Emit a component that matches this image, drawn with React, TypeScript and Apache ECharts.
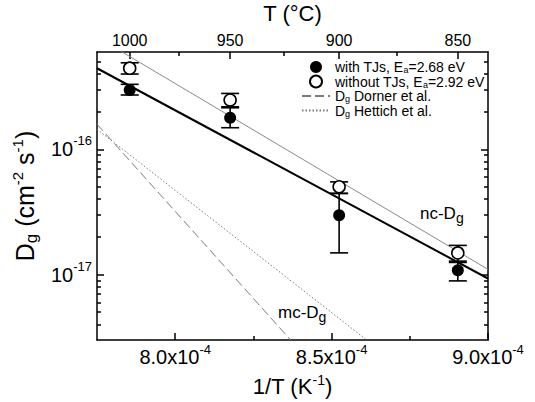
import React, { useEffect, useRef } from 'react';
import * as echarts from 'echarts';

const FONT = '"Liberation Sans", Arial, Helvetica, sans-serif';

// ---- axes ----
const X_MIN = 7.75e-4;
const X_MAX = 9.0e-4;
const Y_MIN = 3e-18;
const Y_MAX = 6e-16;
const X_TICKS = [8.0e-4, 8.5e-4, 9.0e-4];
const X_MINOR_TICKS = [8.25e-4, 8.75e-4];
const TOP_TICKS_C = [1000, 950, 900, 850];
const TOP_MINOR_C = [975, 925, 875];
const Y_DECADES = [-17, -16];
const Y_MINOR_DECADES = [-18, -17, -16];
const Y_MINOR_MANTISSAS = [2, 3, 4, 5, 6, 7, 8, 9];

// ---- data ----
const TEMPS_C = [1000, 950, 900, 850];
const WITH_TJS = [2.98e-16, 1.79e-16, 2.98e-17, 1.08e-17];
const WITH_TJS_LOW = [2.72e-16, 1.49e-16, 1.49e-17, 8.9e-18];
const WITH_TJS_HIGH = [3.31e-16, 2.15e-16, 4.45e-17, 1.25e-17];
const WITHOUT_TJS = [4.45e-16, 2.48e-16, 5.02e-17, 1.49e-17];
const WITHOUT_TJS_LOW = [4.0e-16, 2.19e-16, 4.45e-17, 1.28e-17];
const WITHOUT_TJS_HIGH = [4.92e-16, 2.8e-16, 5.5e-17, 1.71e-17];

const FIT_X = [7.75e-4, 9.0e-4];
const FIT_WITH_Y = [4.45e-16, 9.3e-18];
const FIT_WITHOUT_Y = [7.9e-16, 1.1e-17];
const DORNER_X = [7.75e-4, 8.369e-4];
const DORNER_Y = [1.59e-16, 3e-18];
const HETTICH_X = [7.75e-4, 8.612e-4];
const HETTICH_Y = [1.45e-16, 3e-18];

const NAME_WITH = 'with TJs, Ea=2.68 eV';
const NAME_WITHOUT = 'without TJs, Ea=2.92 eV';
const NAME_DORNER = 'Dg Dorner et al.';
const NAME_HETTICH = 'Dg Hettich et al.';

const LEGEND_RICH: Record<string, string> = {
  [NAME_WITH]: '{t|with TJs, E}{sub|a}{t|=2.68 eV}',
  [NAME_WITHOUT]: '{t|without TJs, E}{sub|a}{t|=2.92 eV}',
  [NAME_DORNER]: '{t|D}{sub|g}{t| Dorner et al.}',
  [NAME_HETTICH]: '{t|D}{sub|g}{t| Hettich et al.}',
};

const K0 = 273.15;
const toInv = (c: number) => 1 / (c + K0);

const BLACK = '#000';
const GRAY = '#8a8a8a';
const DASH_GRAY = '#7a7a7a';

function makeErrorBars(low: number[], high: number[]) {
  return TEMPS_C.map((c, i) => [toInv(c), low[i], high[i]]);
}

function errorBarItem(params: any, api: any) {
  const x = api.value(0);
  const pLo = api.coord([x, api.value(1)]);
  const pHi = api.coord([x, api.value(2)]);
  const hw = 9;
  const style = { stroke: BLACK, lineWidth: 1.6, fill: 'none' };
  return {
    type: 'group',
    children: [
      { type: 'line', shape: { x1: pLo[0], y1: pLo[1], x2: pHi[0], y2: pHi[1] }, style },
      { type: 'line', shape: { x1: pLo[0] - hw, y1: pLo[1], x2: pLo[0] + hw, y2: pLo[1] }, style },
      { type: 'line', shape: { x1: pHi[0] - hw, y1: pHi[1], x2: pHi[0] + hw, y2: pHi[1] }, style },
    ],
  };
}

const lineStyleAxis = { color: BLACK, width: 1.5 };

function tickOnlyAxis(position: string, min: number, max: number, values: number[], length: number) {
  return {
    type: 'value',
    position,
    min,
    max,
    axisLine: { show: false, onZero: false },
    axisTick: { show: true, inside: true, length, customValues: values, lineStyle: lineStyleAxis },
    axisLabel: { show: false },
    splitLine: { show: false },
    minorTick: { show: false },
  };
}

const HIDDEN_SYMBOL = { color: 'transparent', borderColor: 'transparent', borderWidth: 0, opacity: 0 };

export default function App() {
  const ref = useRef<HTMLDivElement>(null);

  useEffect(() => {
    const chart = echarts.init(ref.current as HTMLDivElement, null, { renderer: 'svg' });
    const logMin = Math.log10(Y_MIN);
    const logMax = Math.log10(Y_MAX);
    const yMinor = Y_MINOR_DECADES.flatMap((d) => Y_MINOR_MANTISSAS.map((m) => d + Math.log10(m))).filter(
      (v) => v > logMin && v < logMax
    );

    const labelRich = (main: number, sup: number, lh: number) => ({
      m: { fontFamily: FONT, fontSize: main, lineHeight: lh, verticalAlign: 'middle', color: BLACK },
      s: { fontFamily: FONT, fontSize: sup, lineHeight: sup, verticalAlign: 'top', color: BLACK },
      b: { fontFamily: FONT, fontSize: sup + 2, lineHeight: sup + 2, verticalAlign: 'bottom', color: BLACK },
    });

    const option: any = {
      animation: false,
      backgroundColor: '#fff',
      grid: { left: 97, right: 47, top: 52, bottom: 62, containLabel: false, outerBoundsMode: 'none' },
      legend: {
        orient: 'vertical',
        left: 301,
        top: 60,
        padding: 0,
        itemWidth: 28,
        itemHeight: 12,
        itemGap: 0,
        selectedMode: false,
        data: [
          { name: NAME_WITH },
          { name: NAME_WITHOUT },
          { name: NAME_DORNER, itemStyle: HIDDEN_SYMBOL },
          { name: NAME_HETTICH, itemStyle: HIDDEN_SYMBOL },
        ],
        formatter: (n: string) => LEGEND_RICH[n] || n,
        textStyle: {
          fontFamily: FONT,
          fontSize: 14,
          color: BLACK,
          rich: {
            t: { fontFamily: FONT, fontSize: 14, lineHeight: 15, verticalAlign: 'middle', color: BLACK },
            sub: { fontFamily: FONT, fontSize: 9, lineHeight: 9, verticalAlign: 'bottom', color: BLACK },
          },
        },
      },
      xAxis: [
        {
          type: 'value',
          position: 'bottom',
          min: X_MIN,
          max: X_MAX,
          axisLine: { show: true, onZero: false, lineStyle: lineStyleAxis },
          axisTick: { show: true, inside: true, length: 7, customValues: X_TICKS, lineStyle: lineStyleAxis },
          axisLabel: {
            show: true,
            customValues: X_TICKS,
            margin: 3,
            formatter: (v: number) => `{m|${(v * 1e4).toFixed(1)}x10}{s|-4}`,
            rich: labelRich(20, 13, 28),
          },
          splitLine: { show: false },
          minorTick: { show: false },
          name: '{m|1/T (K}{s|-1}{m|)}',
          nameLocation: 'middle',
          nameGap: 33,
          nameTextStyle: { rich: labelRich(22, 14, 26) },
        },
        {
          type: 'value',
          position: 'top',
          min: X_MIN,
          max: X_MAX,
          axisLine: { show: true, onZero: false, lineStyle: lineStyleAxis },
          axisTick: {
            show: true,
            inside: true,
            length: 7,
            customValues: TOP_TICKS_C.map(toInv),
            lineStyle: lineStyleAxis,
          },
          axisLabel: {
            show: true,
            customValues: TOP_TICKS_C.map(toInv),
            margin: 3,
            formatter: (v: number) => `${Math.round(1 / v - K0)}`,
            fontFamily: FONT,
            fontSize: 16,
            lineHeight: 18,
            color: BLACK,
          },
          splitLine: { show: false },
          minorTick: { show: false },
          name: 'T (°C)',
          nameLocation: 'middle',
          nameGap: 20,
          nameTextStyle: { fontFamily: FONT, fontSize: 22, lineHeight: 26, color: BLACK },
        },
        tickOnlyAxis('bottom', X_MIN, X_MAX, X_MINOR_TICKS, 4),
        tickOnlyAxis('top', X_MIN, X_MAX, TOP_MINOR_C.map(toInv), 4),
      ],
      yAxis: [
        {
          type: 'log',
          logBase: 10,
          position: 'left',
          min: Y_MIN,
          max: Y_MAX,
          axisLine: { show: false, onZero: false },
          axisTick: { show: false },
          axisLabel: { show: false },
          splitLine: { show: false },
          minorTick: { show: false },
        },
        {
          type: 'value',
          position: 'left',
          min: logMin,
          max: logMax,
          axisLine: { show: true, onZero: false, lineStyle: lineStyleAxis },
          axisTick: { show: true, inside: true, length: 7, customValues: Y_DECADES, lineStyle: lineStyleAxis },
          axisLabel: {
            show: true,
            customValues: Y_DECADES,
            margin: 5,
            formatter: (v: number) => `{m|10}{s|${v}}`,
            rich: labelRich(20, 13, 30),
          },
          splitLine: { show: false },
          minorTick: { show: false },
          name: '{m|D}{b|g}{m| (cm}{s|-2}{m| s}{s|-1}{m|)}',
          nameLocation: 'middle',
          nameGap: 49,
          nameTextStyle: { rich: labelRich(25, 15, 30) },
        },
        tickOnlyAxis('left', logMin, logMax, yMinor, 4),
        {
          type: 'value',
          position: 'right',
          min: logMin,
          max: logMax,
          axisLine: { show: true, onZero: false, lineStyle: lineStyleAxis },
          axisTick: { show: true, inside: true, length: 7, customValues: Y_DECADES, lineStyle: lineStyleAxis },
          axisLabel: { show: false },
          splitLine: { show: false },
          minorTick: { show: false },
        },
        tickOnlyAxis('right', logMin, logMax, yMinor, 4),
      ],
      series: [
        {
          name: 'fit with TJs',
          type: 'line',
          data: FIT_X.map((x, i) => [x, FIT_WITH_Y[i]]),
          symbol: 'none',
          lineStyle: { color: BLACK, width: 2 },
          z: 1,
          clip: true,
        },
        {
          name: 'fit without TJs',
          type: 'line',
          data: FIT_X.map((x, i) => [x, FIT_WITHOUT_Y[i]]),
          symbol: 'none',
          lineStyle: { color: GRAY, width: 1 },
          z: 1,
          clip: true,
        },
        {
          name: NAME_DORNER,
          type: 'line',
          data: DORNER_X.map((x, i) => [x, DORNER_Y[i]]),
          symbol: 'none',
          itemStyle: { color: DASH_GRAY },
          lineStyle: { color: DASH_GRAY, width: 1, type: [9, 4] },
          z: 1,
          clip: true,
        },
        {
          name: NAME_HETTICH,
          type: 'line',
          data: HETTICH_X.map((x, i) => [x, HETTICH_Y[i]]),
          symbol: 'none',
          itemStyle: { color: DASH_GRAY },
          lineStyle: { color: DASH_GRAY, width: 1, type: [1.5, 2] },
          z: 1,
          clip: true,
        },
        {
          name: 'err with',
          type: 'custom',
          data: makeErrorBars(WITH_TJS_LOW, WITH_TJS_HIGH),
          encode: { x: 0, y: [1, 2] },
          renderItem: errorBarItem,
          z: 2,
        },
        {
          name: 'err without',
          type: 'custom',
          data: makeErrorBars(WITHOUT_TJS_LOW, WITHOUT_TJS_HIGH),
          encode: { x: 0, y: [1, 2] },
          renderItem: errorBarItem,
          z: 2,
        },
        {
          name: NAME_WITHOUT,
          type: 'scatter',
          data: TEMPS_C.map((c, i) => [toInv(c), WITHOUT_TJS[i]]),
          symbol: 'circle',
          symbolSize: 12,
          itemStyle: { color: '#fff', borderColor: BLACK, borderWidth: 1.6, opacity: 1 },
          z: 3,
        },
        {
          name: NAME_WITH,
          type: 'scatter',
          data: TEMPS_C.map((c, i) => [toInv(c), WITH_TJS[i]]),
          symbol: 'circle',
          symbolSize: 12,
          itemStyle: { color: BLACK, opacity: 1 },
          z: 3,
        },
      ],
      graphic: [
        {
          type: 'text',
          left: 420,
          top: 205,
          style: {
            text: '{m|nc-D}{s|g}',
            rich: {
              m: { fontFamily: FONT, fontSize: 17, lineHeight: 22, verticalAlign: 'middle', fill: BLACK },
              s: { fontFamily: FONT, fontSize: 14, lineHeight: 14, verticalAlign: 'bottom', fill: BLACK },
            },
          },
        },
        {
          type: 'text',
          left: 278,
          top: 304,
          style: {
            text: '{m|mc-D}{s|g}',
            rich: {
              m: { fontFamily: FONT, fontSize: 17, lineHeight: 22, verticalAlign: 'middle', fill: BLACK },
              s: { fontFamily: FONT, fontSize: 14, lineHeight: 14, verticalAlign: 'bottom', fill: BLACK },
            },
          },
        },
      ],
    };

    chart.setOption(option);
    return () => chart.dispose();
  }, []);

  return (
    <div
      ref={ref}
      style={{ position: 'fixed', left: 0, top: 0, width: 535, height: 402, background: '#fff' }}
    />
  );
}
